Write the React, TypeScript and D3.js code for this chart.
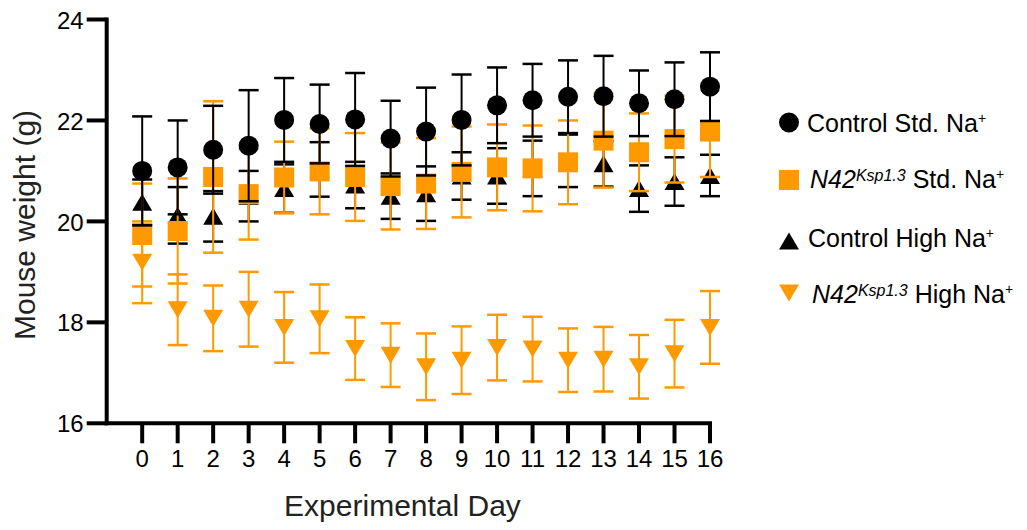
import React from "react";
import * as d3 from "d3";

const days = [0, 1, 2, 3, 4, 5, 6, 7, 8, 9, 10, 11, 12, 13, 14, 15, 16];
const yTicks = [16, 18, 20, 22, 24];

const controlStdMean = [21.0, 21.07, 21.42, 21.5, 22.01, 21.93, 22.02, 21.64, 21.78, 22.01, 22.3, 22.4, 22.47, 22.48, 22.34, 22.42, 22.67];
const controlStdErr = [1.08, 0.93, 0.87, 1.1, 0.83, 0.78, 0.92, 0.75, 0.87, 0.9, 0.75, 0.72, 0.72, 0.8, 0.65, 0.73, 0.68];

const n42StdMean = [19.73, 19.81, 20.88, 20.54, 20.87, 20.99, 20.88, 20.7, 20.75, 20.98, 21.07, 21.05, 21.17, 21.6, 21.37, 21.63, 21.78];
const n42StdErr = [1.02, 1.04, 1.5, 0.9, 0.71, 0.85, 0.87, 0.86, 0.9, 0.9, 0.85, 0.85, 0.83, 0.93, 0.77, 0.86, 0.9];

const controlHighMean = [20.38, 20.12, 20.1, 20.5, 20.65, 21.03, 20.72, 20.5, 20.55, 20.9, 20.9, 21.05, 21.2, 21.14, 20.65, 20.79, 20.91];
const controlHighErr = [0.45, 0.56, 0.5, 0.5, 0.48, 0.54, 0.46, 0.45, 0.54, 0.47, 0.55, 0.55, 0.52, 0.45, 0.46, 0.48, 0.41];

const n42HighMean = [19.19, 18.25, 18.08, 18.26, 17.9, 18.07, 17.48, 17.35, 17.12, 17.25, 17.5, 17.47, 17.25, 17.27, 17.12, 17.38, 17.9];
const n42HighErr = [0.81, 0.7, 0.65, 0.74, 0.7, 0.68, 0.62, 0.63, 0.66, 0.67, 0.65, 0.64, 0.63, 0.64, 0.63, 0.67, 0.72];

const ORANGE = "#FF9900";
const BLACK = "#000000";
const FONT = "'Liberation Sans', Arial, Helvetica, sans-serif";

const x = d3.scaleLinear().domain([-1, 16]).range([106.7, 710]);
const y = d3.scaleLinear().domain([16, 24]).range([423.3, 19.5]);

type Shape = "circle" | "square" | "up" | "down";

function Marker({ cx, cy, shape, color }: { cx: number; cy: number; shape: Shape; color: string }) {
  if (shape === "circle") return <circle cx={cx} cy={cy} r={10} fill={color} />;
  if (shape === "square") return <rect x={cx - 10} y={cy - 10} width={20} height={20} fill={color} />;
  const w = 10, h = 8.5;
  if (shape === "up")
    return <path d={`M${cx - w},${cy + h}L${cx + w},${cy + h}L${cx},${cy - h}Z`} fill={color} />;
  return <path d={`M${cx - w},${cy - h}L${cx + w},${cy - h}L${cx},${cy + h}Z`} fill={color} />;
}

function Series({ mean, err, shape, color }: { mean: number[]; err: number[]; shape: Shape; color: string }) {
  return (
    <g>
      {days.map((d, i) => {
        const cx = x(d);
        const top = y(mean[i] + err[i]);
        const bot = y(mean[i] - err[i]);
        return (
          <g key={d}>
            <line x1={cx} x2={cx} y1={top} y2={bot} stroke={color} strokeWidth={2} />
            <line x1={cx - 10} x2={cx + 10} y1={top} y2={top} stroke={color} strokeWidth={2.5} />
            <line x1={cx - 10} x2={cx + 10} y1={bot} y2={bot} stroke={color} strokeWidth={2.5} />
            <Marker cx={cx} cy={y(mean[i])} shape={shape} color={color} />
          </g>
        );
      })}
    </g>
  );
}

export default function App() {
  const axisY = y(16);
  const axisX = x(-1);
  return (
    <svg
      width={1027}
      height={530}
      style={{ position: "absolute", left: 0, top: 0, display: "block", background: "#fff" }}
      fontFamily={FONT}
    >
      <rect width={1027} height={530} fill="#fff" />
      {/* series */}
      <Series mean={n42HighMean} err={n42HighErr} shape="down" color={ORANGE} />
      <Series mean={controlHighMean} err={controlHighErr} shape="up" color={BLACK} />
      <Series mean={n42StdMean} err={n42StdErr} shape="square" color={ORANGE} />
      <Series mean={controlStdMean} err={controlStdErr} shape="circle" color={BLACK} />

      {/* y axis */}
      <line x1={axisX} x2={axisX} y1={y(24)} y2={axisY} stroke="#000" strokeWidth={4} strokeLinecap="square" />
      {yTicks.map((t) => (
        <g key={t}>
          <line x1={axisX - 20} x2={axisX} y1={y(t)} y2={y(t)} stroke="#000" strokeWidth={4} />
          <text x={axisX - 23} y={y(t)} dy="0.38em" textAnchor="end" fontSize={24} fill="#000">
            {t}
          </text>
        </g>
      ))}
      {/* x axis */}
      <line x1={axisX} x2={x(16)} y1={axisY} y2={axisY} stroke="#000" strokeWidth={4} strokeLinecap="square" />
      {days.map((d) => (
        <g key={d}>
          <line x1={x(d)} x2={x(d)} y1={axisY} y2={axisY + 20} stroke="#000" strokeWidth={4} />
          <text x={x(d)} y={467} textAnchor="middle" fontSize={24} fill="#000">
            {d}
          </text>
        </g>
      ))}

      {/* axis titles */}
      <text x={402.5} y={516} textAnchor="middle" fontSize={30} fill="#222">
        Experimental Day
      </text>
      <text transform="translate(35,225) rotate(-90)" textAnchor="middle" fontSize={30} fill="#222">
        Mouse weight (g)
      </text>

      {/* legend */}
      <g>
        <Marker cx={789} cy={122.5} shape="circle" color={BLACK} />
        <text x={807} y={131.5} fontSize={25} fill="#000">
          Control Std. Na<tspan fontSize={14} dy={-9}>+</tspan>
        </text>

        <Marker cx={789} cy={180} shape="square" color={ORANGE} />
        <text x={810} y={187.5} fontSize={25} fill="#000">
          <tspan fontStyle="italic">N42</tspan>
          <tspan fontStyle="italic" fontSize={16} dy={-7}>Ksp1.3</tspan>
          <tspan dy={7}> Std. Na</tspan>
          <tspan fontSize={14} dy={-9}>+</tspan>
        </text>

        <Marker cx={789} cy={241} shape="up" color={BLACK} />
        <text x={808} y={246.5} fontSize={25} fill="#000">
          Control High Na<tspan fontSize={14} dy={-9}>+</tspan>
        </text>

        <Marker cx={789} cy={293} shape="down" color={ORANGE} />
        <text x={812} y={303} fontSize={25} fill="#000">
          <tspan fontStyle="italic">N42</tspan>
          <tspan fontStyle="italic" fontSize={16} dy={-7}>Ksp1.3</tspan>
          <tspan dy={7}> High Na</tspan>
          <tspan fontSize={14} dy={-9}>+</tspan>
        </text>
      </g>
    </svg>
  );
}
